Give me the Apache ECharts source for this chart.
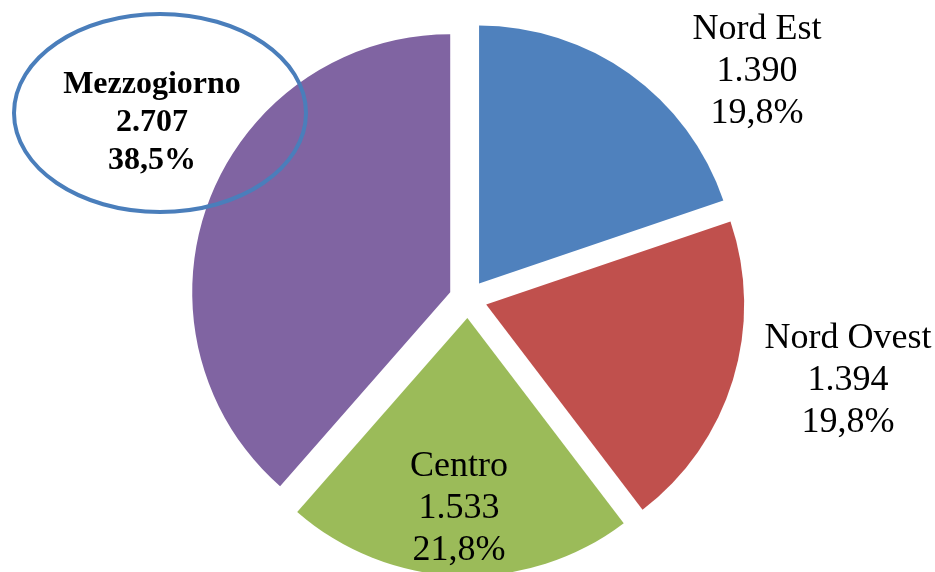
<!DOCTYPE html>
<html>
<head>
<meta charset="utf-8">
<title>Ripartizione territoriale</title>
<script src="https://cdn.jsdelivr.net/npm/echarts@6/dist/echarts.min.js"></script>
<style>
  html, body { margin: 0; padding: 0; background: #fff; }
  #chart { width: 935px; height: 572px; }
</style>
</head>
<body>
<div id="chart"></div>
<script>
// dati della torta (ordine orario a partire dalle ore 12)
var regions = ['Nord Est', 'Nord Ovest', 'Centro', 'Mezzogiorno']
var values = [1390, 1394, 1533, 2707]
var colors = ['#4F81BD', '#C0504D', '#9BBB59', '#8064A2']

// posizione delle etichette (centro del blocco di testo)
var labelPos = [[757, 72], [848, 381], [459, 509], [152, 123]]

var SEL_OFFSET = 19

var total = values.reduce(function (a, b) { return a + b }, 0)

function fmtNum(v) {
  return String(v).replace(/\B(?=(\d{3})+(?!\d))/g, '.')
}
function fmtPct(v) {
  return (v / total * 100).toFixed(1).replace('.', ',') + '%'
}

// spostamento della fetta staccata (l'etichetta lo eredita)
function sliceShift(idx) {
  var before = 0
  for (var i = 0; i < idx; i++) before += values[i]
  var a = (before + values[idx] / 2) / total * Math.PI * 2
  return [SEL_OFFSET * Math.sin(a), -SEL_OFFSET * Math.cos(a)]
}

var chart = echarts.init(document.getElementById('chart'))

chart.setOption({
  animation: false,
  backgroundColor: '#fff',
  graphic: [{
    type: 'ellipse',
    z: 100,
    shape: { cx: 160, cy: 113, rx: 146, ry: 99 },
    style: { fill: 'none', stroke: '#4A7EBB', lineWidth: 4 }
  }],
  series: [{
    type: 'pie',
    center: [468, 299],
    radius: 258,
    startAngle: 90,
    clockwise: true,
    selectedMode: 'multiple',
    selectedOffset: SEL_OFFSET,
    avoidLabelOverlap: false,
    emphasis: { disabled: true },
    labelLine: { show: false },
    label: {
      show: true,
      position: 'inside',
      align: 'center',
      verticalAlign: 'middle',
      color: '#000',
      fontFamily: 'Liberation Serif',
      fontSize: 36,
      lineHeight: 42,
      formatter: function (p) {
        return p.name + '\n' + fmtNum(p.value) + '\n' + fmtPct(p.value)
      }
    },
    labelLayout: function (params) {
      var pos = labelPos[params.dataIndex]
      var r = params.labelRect
      var s = sliceShift(params.dataIndex)
      return {
        dx: pos[0] - (r.x + r.width / 2) - s[0],
        dy: pos[1] - (r.y + r.height / 2) - s[1],
        hideOverlap: false
      }
    },
    data: regions.map(function (name, i) {
      var item = {
        name: name,
        value: values[i],
        selected: true,
        itemStyle: { color: colors[i] }
      }
      if (name === 'Mezzogiorno') {
        item.label = { fontWeight: 'bold', fontSize: 32, lineHeight: 38 }
      }
      return item
    })
  }]
})
</script>
</body>
</html>
